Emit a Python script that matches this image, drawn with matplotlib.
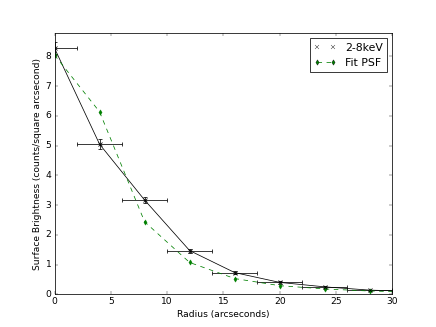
import numpy as np
import matplotlib
matplotlib.use("Agg")
import matplotlib.pyplot as plt
from matplotlib.lines import Line2D

plt.style.use('classic')

radius = [0, 4, 8, 12, 16, 20, 24, 28, 32]
counts = [8.28, 5.05, 3.17, 1.47, 0.73, 0.40, 0.25, 0.14, 0.10]
counts_err = [0.2, 0.17, 0.1, 0.07, 0.05, 0.04, 0.03, 0.02, 0.02]
radius_err = [2, 2, 2, 2, 2, 2, 2, 2, 2]
psf = [8.05, 6.14, 2.44, 1.07, 0.53, 0.29, 0.18, 0.11, 0.08]

fig = plt.figure(figsize=(8, 6), dpi=54.5)
ax = fig.add_subplot(111)

ax.plot(radius, counts, '-', color='k', lw=1)
ax.errorbar(radius, counts, xerr=radius_err, yerr=counts_err, fmt='x',
            color='k', ecolor='k', mew=1, ms=6, capsize=3, lw=1)
ax.plot(radius, psf, 'd--', color='g', mec='g', mfc='g', ms=5, lw=1)

ax.set_xlim(0, 30)
ax.set_ylim(0, 8.8)
ax.set_xlabel("Radius (arcseconds)")
ax.set_ylabel("Surface Brightness (counts/square arcsecond)")

handles = [Line2D([], [], ls='none', marker='x', color='k', ms=6),
           Line2D([], [], ls='--', marker='d', color='g', ms=5)]
ax.legend(handles, ['2-8keV', 'Fit PSF'], loc='upper right', numpoints=2)

fig.savefig("out.png", dpi=54.5)
